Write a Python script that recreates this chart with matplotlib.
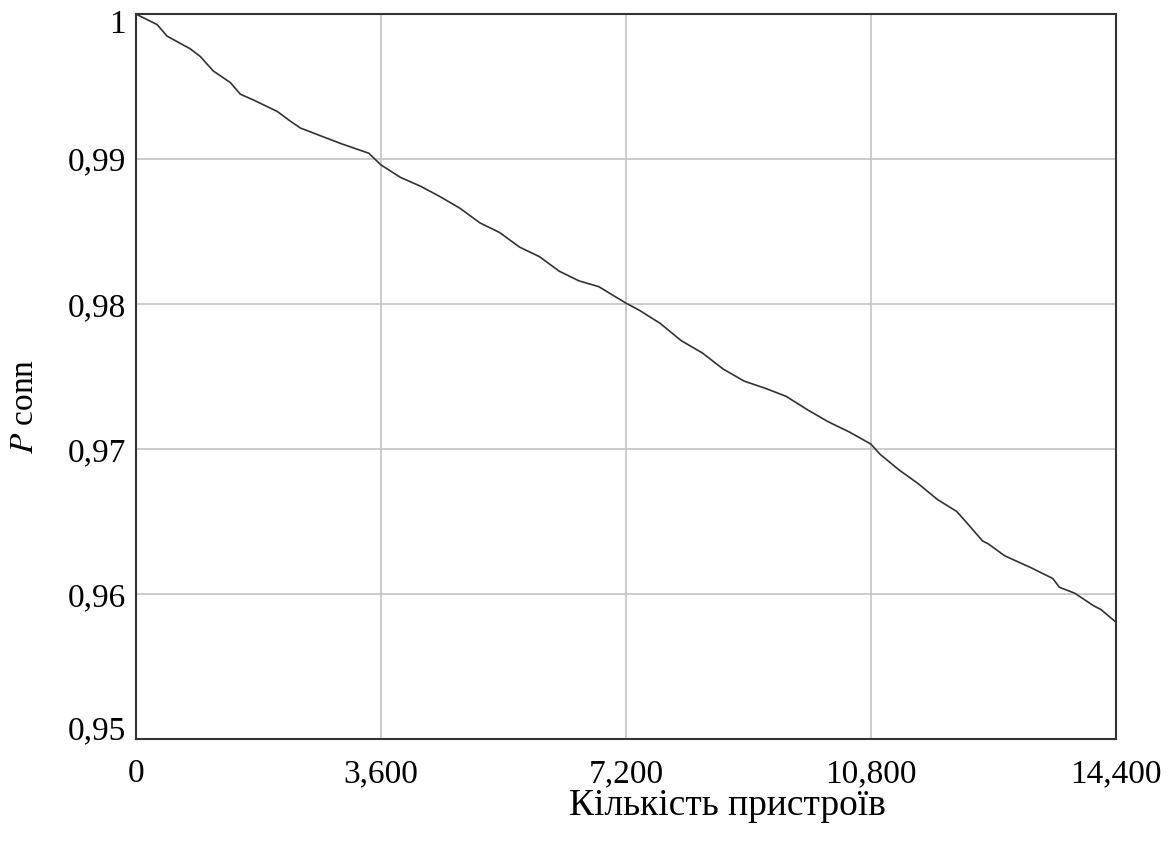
import numpy as np
import matplotlib
matplotlib.use("Agg")
import matplotlib.pyplot as plt
from matplotlib.transforms import ScaledTranslation

plt.rcParams['font.family'] = ['Liberation Serif', 'DejaVu Serif']
plt.rcParams['mathtext.fontset'] = 'stix'

# кількість пристроїв та ймовірність з'єднання
n_dev = [0, 314, 461, 800, 948, 1139, 1390, 1537, 1729, 2083, 2274, 2422,
         3011, 3424, 3600, 3891, 4182, 4474, 4765, 5056, 5347, 5638, 5930,
         6221, 6512, 6803, 7200, 7396, 7704, 8013, 8321, 8630, 8938, 9246,
         9555, 9863, 10172, 10480, 10800, 10931, 11213, 11495, 11777, 12059,
         12200, 12440, 12525, 12765, 13146, 13470, 13569, 13794, 14076,
         14175, 14400]
p_conn = [1.0, 0.99927, 0.99847, 0.99760, 0.99707, 0.99607, 0.99527, 0.99447,
          0.99407, 0.99327, 0.99260, 0.99213, 0.99107, 0.99040, 0.98960,
          0.98873, 0.98813, 0.98740, 0.98660, 0.98560, 0.98493, 0.98393,
          0.98327, 0.98227, 0.98160, 0.98120, 0.98007, 0.97958, 0.97867,
          0.97748, 0.97664, 0.97552, 0.97469, 0.97420, 0.97364, 0.97273,
          0.97189, 0.97119, 0.97035, 0.96966, 0.96857, 0.96762, 0.96653,
          0.96571, 0.96497, 0.96367, 0.96347, 0.96265, 0.96184, 0.96109,
          0.96048, 0.96007, 0.95919, 0.95896, 0.95807]

x_ticks = [0, 3600, 7200, 10800, 14400]
x_labels = ['0', '3,600', '7,200', '10,800', '14,400']
y_ticks = [0.95, 0.96, 0.97, 0.98, 0.99, 1.0]
y_labels = ['0,95', '0,96', '0,97', '0,98', '0,99', '1']

fig = plt.figure(figsize=(11.68, 8.46), dpi=100)
ax = fig.add_axes([0.1162, 0.1261, 0.8393, 0.8574])

ax.plot(n_dev, p_conn, color='#333333', lw=1.2)

ax.set_xlim(0, 14400)
ax.set_ylim(0.95, 1.0)
ax.set_xticks(x_ticks)
ax.set_xticklabels(x_labels)
ax.set_yticks(y_ticks)
ax.set_yticklabels(y_labels)
ax.tick_params(length=0, labelsize=24, colors='black')
ax.tick_params(axis='x', pad=14)
ax.tick_params(axis='y', pad=7)
ax.grid(True, color='#c4c4c4', lw=1.2)
for s in ax.spines.values():
    s.set_color('#333333')
    s.set_linewidth(1.5)

# крайні підписи зсунуті всередину, як в оригіналі
yl = ax.get_yticklabels()
yl[0].set_transform(yl[0].get_transform() + ScaledTranslation(0, 0.12, fig.dpi_scale_trans))
yl[-1].set_transform(yl[-1].get_transform() + ScaledTranslation(0, -0.07, fig.dpi_scale_trans))

ax.set_xlabel('Кількість пристроїв', fontsize=27)
ax.xaxis.set_label_coords(0.604, -0.091)
ax.xaxis.label.set_va('center')
ax.set_ylabel('$P$ conn', fontsize=24)
ax.yaxis.set_label_coords(-0.113, 0.459)
ax.yaxis.label.set_va('center')

plt.savefig('out.png', dpi=100)
